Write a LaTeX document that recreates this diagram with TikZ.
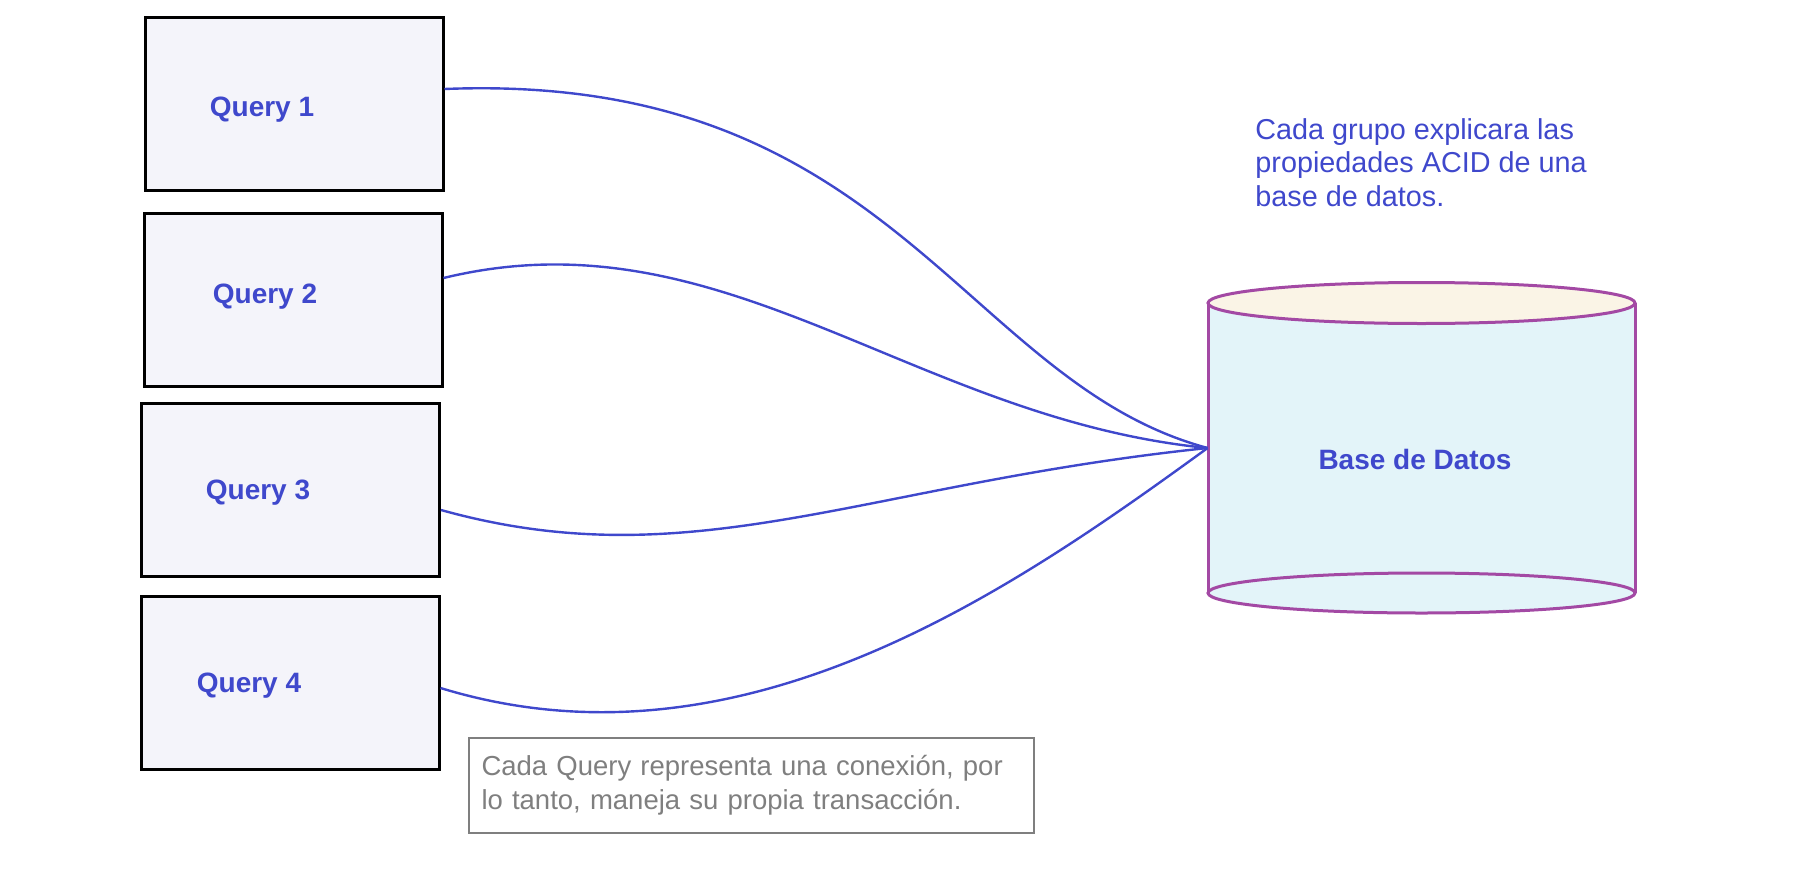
\documentclass[tikz,border=0pt]{standalone}
\usepackage{fontspec}
\setmainfont{Liberation Sans}
\usepackage{tikz}
\usetikzlibrary{positioning}

\definecolor{qblue}{RGB}{63,72,204}
\definecolor{qfill}{RGB}{244,244,250}
\definecolor{dbline}{RGB}{163,73,164}
\definecolor{dbtop}{RGB}{250,244,230}
\definecolor{dbbody}{RGB}{227,244,249}
\definecolor{notegray}{RGB}{127,127,127}

\begin{document}
\begin{tikzpicture}[x=0.5pt,y=-0.5pt,
    qbox/.style={draw=black,line width=1.5pt,fill=qfill,minimum width=149pt,minimum height=86.5pt,inner sep=0pt},
    qlabel/.style={text=qblue,font=\fontsize{14}{16.5}\selectfont\bfseries},
    link/.style={draw=qblue,line width=1.2pt},
    dbl/.style={draw=dbline,line width=1.5pt}]
    \useasboundingbox (0,0) rectangle (1816,868);
    % queries
    \node[qbox] (q1) at (294,103.5) {};
    \node[qbox] (q2) at (293,299.5) {};
    \node[qbox] (q3) at (290.5,489.5) {};
    \node[qbox] (q4) at (290,682.5) {};
    \node[qlabel] (q1t) at (262,110) {Query 1};
    \node[qlabel] (q2t) at (265,297) {Query 2};
    \node[qlabel] (q3t) at (258,493) {Query 3};
    \node[qlabel] (q4t) at (249,686) {Query 4};
    % database
    \fill[dbbody] (1421.5,593) ellipse (213.5 and 20);
    \fill[dbbody] (1208,303) rectangle (1635,593);
    \draw[dbl] (1421.5,593) ellipse (213.5 and 20);
    \draw[dbl] (1208,303) -- (1208,593);
    \draw[dbl] (1635,303) -- (1635,593);
    \draw[dbl,fill=dbtop] (1421.5,303) ellipse (213.5 and 20.5);
    \node[minimum width=213.5pt,minimum height=145pt,inner sep=0pt] (db) at (1421.5,448) {};
    \node[qlabel] (dbt) at (1415,459) {Base de Datos};
    % connections
    \draw[link] ([yshift=7.25pt]q1.east) .. controls (893,71) and (962,382) .. (db.west);
    \draw[link] ([yshift=10.75pt]q2.east) .. controls (723,210) and (912,419) .. (db.west);
    \draw[link] ([yshift=-10.25pt]q3.east) .. controls (692,580) and (862,484) .. (db.west);
    \draw[link] ([yshift=-2.75pt]q4.east) .. controls (741,780) and (1012,590) .. (db.west);
    % notes
    \node[anchor=north west,inner sep=0pt,align=left,text=qblue,font=\fontsize{14.4}{16.8}\selectfont] (acid) at (1255,118)
        {Cada grupo explicara las\\propiedades ACID de una\\base de datos.};
    \node[draw=notegray,line width=1.4pt,text=notegray,minimum width=282.5pt,minimum height=47.5pt,
        text width=270pt,inner xsep=6pt,align=left,font=\fontsize{13.75}{16.8}\selectfont] (nota) at (751.5,785.5)
        {Cada Query representa una conexión, por\\lo tanto, maneja su propia transacción.};
\end{tikzpicture}
\end{document}
